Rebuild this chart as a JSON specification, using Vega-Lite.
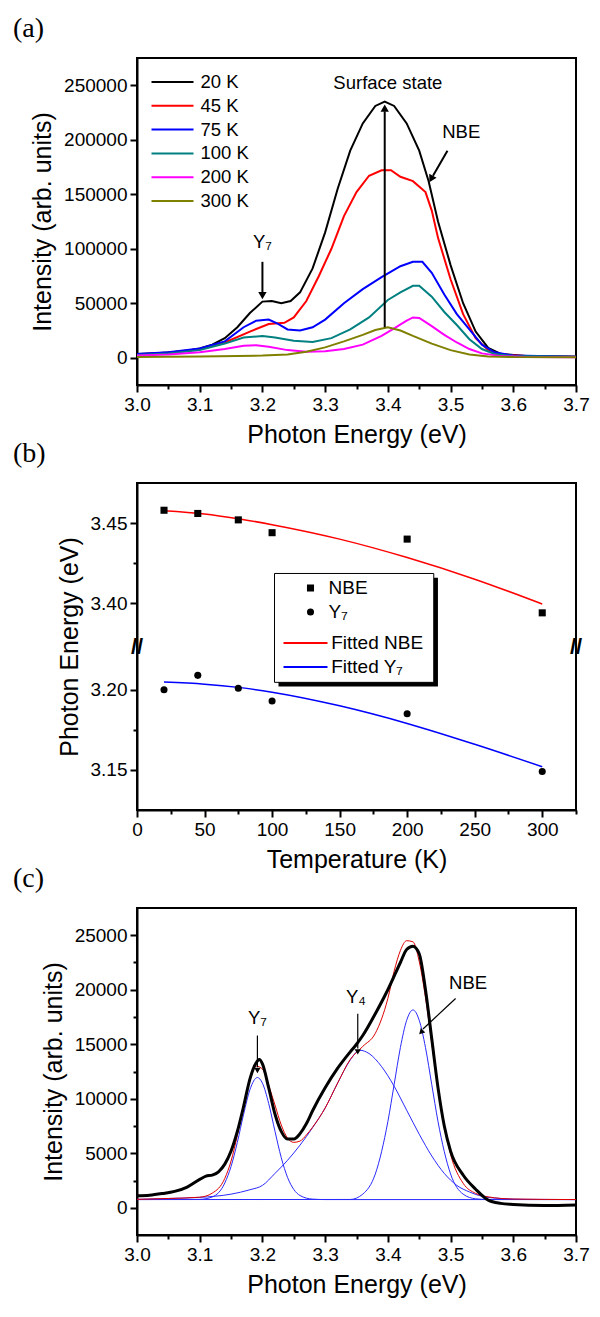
{
  "$schema": "https://vega.github.io/schema/vega-lite/v6.json",
  "background": "white",
  "padding": {"left": 12, "top": 14, "right": 5, "bottom": 5},
  "spacing": 98,
  "bounds": "flush",
  "config": {
    "font": "Liberation Sans",
    "view": {"stroke": "black", "strokeWidth": 2},
    "axis": {"domainColor": "black", "domainWidth": 2, "tickColor": "black", "tickWidth": 2, "labelFont": "Liberation Sans", "labelFontSize": 19, "labelColor": "black", "labelPadding": 3, "labelFlush": false, "labelOverlap": false, "titleFont": "Liberation Sans", "titleFontSize": 25, "titleFontWeight": "normal", "titleColor": "black", "grid": false, "titlePadding": 8},
    "legend": {"labelFont": "Liberation Sans", "labelColor": "black"},
    "title": {"font": "Liberation Serif", "fontSize": 28, "fontWeight": "normal", "anchor": "start", "frame": "group", "dx": -124, "offset": 15, "color": "black"},
    "text": {"font": "Liberation Sans", "fontSize": 18.5, "color": "black"}
  },
  "resolve": {"scale": {"color": "independent", "shape": "independent"}, "legend": {"color": "independent", "shape": "independent"}},
  "datasets": {
    "specA": [
      {"E":3.00,"I":3500,"T":"20 K"},{"E":3.03,"I":4200,"T":"20 K"},{"E":3.06,"I":5200,"T":"20 K"},{"E":3.08,"I":6500,"T":"20 K"},{"E":3.10,"I":8500,"T":"20 K"},{"E":3.12,"I":12000,"T":"20 K"},{"E":3.14,"I":18000,"T":"20 K"},{"E":3.16,"I":28000,"T":"20 K"},{"E":3.18,"I":41000,"T":"20 K"},{"E":3.20,"I":51500,"T":"20 K"},{"E":3.215,"I":52000,"T":"20 K"},{"E":3.23,"I":50000,"T":"20 K"},{"E":3.245,"I":52000,"T":"20 K"},{"E":3.26,"I":60000,"T":"20 K"},{"E":3.28,"I":82000,"T":"20 K"},{"E":3.30,"I":115000,"T":"20 K"},{"E":3.32,"I":155000,"T":"20 K"},{"E":3.34,"I":190000,"T":"20 K"},{"E":3.36,"I":215000,"T":"20 K"},{"E":3.38,"I":231000,"T":"20 K"},{"E":3.395,"I":235000,"T":"20 K"},{"E":3.41,"I":231000,"T":"20 K"},{"E":3.43,"I":215000,"T":"20 K"},{"E":3.45,"I":190000,"T":"20 K"},{"E":3.465,"I":162000,"T":"20 K"},{"E":3.48,"I":125000,"T":"20 K"},{"E":3.50,"I":85000,"T":"20 K"},{"E":3.52,"I":50000,"T":"20 K"},{"E":3.54,"I":24000,"T":"20 K"},{"E":3.56,"I":9000,"T":"20 K"},{"E":3.58,"I":3500,"T":"20 K"},{"E":3.62,"I":1500,"T":"20 K"},{"E":3.70,"I":1000,"T":"20 K"},
      {"E":3.00,"I":3000,"T":"45 K"},{"E":3.05,"I":4500,"T":"45 K"},{"E":3.10,"I":8000,"T":"45 K"},{"E":3.14,"I":14000,"T":"45 K"},{"E":3.18,"I":24000,"T":"45 K"},{"E":3.21,"I":31000,"T":"45 K"},{"E":3.235,"I":32000,"T":"45 K"},{"E":3.25,"I":37000,"T":"45 K"},{"E":3.27,"I":52000,"T":"45 K"},{"E":3.29,"I":75000,"T":"45 K"},{"E":3.31,"I":100000,"T":"45 K"},{"E":3.33,"I":130000,"T":"45 K"},{"E":3.35,"I":152000,"T":"45 K"},{"E":3.37,"I":167000,"T":"45 K"},{"E":3.39,"I":172000,"T":"45 K"},{"E":3.405,"I":172000,"T":"45 K"},{"E":3.42,"I":166000,"T":"45 K"},{"E":3.44,"I":162000,"T":"45 K"},{"E":3.46,"I":152000,"T":"45 K"},{"E":3.47,"I":135000,"T":"45 K"},{"E":3.48,"I":110000,"T":"45 K"},{"E":3.50,"I":72000,"T":"45 K"},{"E":3.52,"I":40000,"T":"45 K"},{"E":3.54,"I":18000,"T":"45 K"},{"E":3.56,"I":7000,"T":"45 K"},{"E":3.58,"I":3000,"T":"45 K"},{"E":3.62,"I":1500,"T":"45 K"},{"E":3.70,"I":1000,"T":"45 K"},
      {"E":3.00,"I":3500,"T":"75 K"},{"E":3.05,"I":5000,"T":"75 K"},{"E":3.10,"I":8500,"T":"75 K"},{"E":3.14,"I":15000,"T":"75 K"},{"E":3.17,"I":28000,"T":"75 K"},{"E":3.19,"I":34000,"T":"75 K"},{"E":3.21,"I":35000,"T":"75 K"},{"E":3.225,"I":31000,"T":"75 K"},{"E":3.24,"I":26000,"T":"75 K"},{"E":3.26,"I":25000,"T":"75 K"},{"E":3.28,"I":28000,"T":"75 K"},{"E":3.30,"I":35000,"T":"75 K"},{"E":3.33,"I":50000,"T":"75 K"},{"E":3.36,"I":63000,"T":"75 K"},{"E":3.39,"I":74000,"T":"75 K"},{"E":3.42,"I":84000,"T":"75 K"},{"E":3.44,"I":88000,"T":"75 K"},{"E":3.455,"I":88000,"T":"75 K"},{"E":3.47,"I":78000,"T":"75 K"},{"E":3.49,"I":58000,"T":"75 K"},{"E":3.51,"I":40000,"T":"75 K"},{"E":3.53,"I":26000,"T":"75 K"},{"E":3.55,"I":12000,"T":"75 K"},{"E":3.57,"I":5000,"T":"75 K"},{"E":3.60,"I":2000,"T":"75 K"},{"E":3.70,"I":1000,"T":"75 K"},
      {"E":3.00,"I":2500,"T":"100 K"},{"E":3.05,"I":4000,"T":"100 K"},{"E":3.10,"I":7000,"T":"100 K"},{"E":3.14,"I":13000,"T":"100 K"},{"E":3.17,"I":18500,"T":"100 K"},{"E":3.20,"I":20000,"T":"100 K"},{"E":3.22,"I":18500,"T":"100 K"},{"E":3.25,"I":15500,"T":"100 K"},{"E":3.28,"I":14500,"T":"100 K"},{"E":3.31,"I":18000,"T":"100 K"},{"E":3.34,"I":26000,"T":"100 K"},{"E":3.37,"I":37000,"T":"100 K"},{"E":3.40,"I":53000,"T":"100 K"},{"E":3.42,"I":60000,"T":"100 K"},{"E":3.44,"I":66000,"T":"100 K"},{"E":3.45,"I":66000,"T":"100 K"},{"E":3.47,"I":56000,"T":"100 K"},{"E":3.49,"I":42000,"T":"100 K"},{"E":3.51,"I":30000,"T":"100 K"},{"E":3.53,"I":17000,"T":"100 K"},{"E":3.55,"I":8000,"T":"100 K"},{"E":3.57,"I":3500,"T":"100 K"},{"E":3.60,"I":1500,"T":"100 K"},{"E":3.70,"I":1000,"T":"100 K"},
      {"E":3.00,"I":2000,"T":"200 K"},{"E":3.05,"I":3000,"T":"200 K"},{"E":3.10,"I":5000,"T":"200 K"},{"E":3.14,"I":8000,"T":"200 K"},{"E":3.17,"I":11000,"T":"200 K"},{"E":3.19,"I":11500,"T":"200 K"},{"E":3.21,"I":10000,"T":"200 K"},{"E":3.24,"I":7000,"T":"200 K"},{"E":3.27,"I":5500,"T":"200 K"},{"E":3.30,"I":6000,"T":"200 K"},{"E":3.33,"I":8000,"T":"200 K"},{"E":3.36,"I":12000,"T":"200 K"},{"E":3.39,"I":20000,"T":"200 K"},{"E":3.41,"I":27000,"T":"200 K"},{"E":3.43,"I":34000,"T":"200 K"},{"E":3.44,"I":37000,"T":"200 K"},{"E":3.45,"I":36500,"T":"200 K"},{"E":3.47,"I":29000,"T":"200 K"},{"E":3.49,"I":21000,"T":"200 K"},{"E":3.51,"I":14000,"T":"200 K"},{"E":3.53,"I":8000,"T":"200 K"},{"E":3.55,"I":4000,"T":"200 K"},{"E":3.58,"I":1500,"T":"200 K"},{"E":3.62,"I":800,"T":"200 K"},{"E":3.70,"I":500,"T":"200 K"},
      {"E":3.00,"I":800,"T":"300 K"},{"E":3.10,"I":1200,"T":"300 K"},{"E":3.20,"I":2000,"T":"300 K"},{"E":3.24,"I":3000,"T":"300 K"},{"E":3.27,"I":5500,"T":"300 K"},{"E":3.30,"I":9500,"T":"300 K"},{"E":3.33,"I":15000,"T":"300 K"},{"E":3.36,"I":21000,"T":"300 K"},{"E":3.38,"I":25500,"T":"300 K"},{"E":3.40,"I":28000,"T":"300 K"},{"E":3.42,"I":25000,"T":"300 K"},{"E":3.44,"I":20000,"T":"300 K"},{"E":3.47,"I":13000,"T":"300 K"},{"E":3.50,"I":7000,"T":"300 K"},{"E":3.53,"I":3000,"T":"300 K"},{"E":3.56,"I":1200,"T":"300 K"},{"E":3.60,"I":600,"T":"300 K"},{"E":3.70,"I":500,"T":"300 K"}
    ],
    "arrowA": [
      {"E":3.395,"I":28000,"E2":3.395,"I2":226000},
      {"E":3.495,"I":190000,"E2":3.472,"I2":167000},
      {"E":3.2,"I":88000,"E2":3.2,"I2":60000}
    ],
    "headUpA": [{"E":3.395,"I":229000}],
    "headDownA": [{"E":3.2,"I":57000}],
    "headNbeA": [{"E":3.469,"I":164000}],
    "textA": [
      {"E":3.40,"I":252000,"label":"Surface state"},
      {"E":3.517,"I":207000,"label":"NBE"},
      {"E":3.2,"I":106000,"label":"Y₇"}
    ],
    "pointsB": [
      {"T":20,"v":3.458,"S":"NBE"},{"T":45,"v":3.456,"S":"NBE"},{"T":75,"v":3.452,"S":"NBE"},{"T":100,"v":3.444,"S":"NBE"},{"T":200,"v":3.440,"S":"NBE"},{"T":300,"v":3.394,"S":"NBE"},
      {"T":20,"v":3.200,"S":"Y₇"},{"T":45,"v":3.209,"S":"Y₇"},{"T":75,"v":3.201,"S":"Y₇"},{"T":100,"v":3.193,"S":"Y₇"},{"T":200,"v":3.185,"S":"Y₇"},{"T":300,"v":3.149,"S":"Y₇"}
    ],
    "fitsB": [
      {"T":20,"v":3.4577,"S":"Fitted NBE"},{"T":50,"v":3.4557,"S":"Fitted NBE"},{"T":75,"v":3.4527,"S":"Fitted NBE"},{"T":100,"v":3.449,"S":"Fitted NBE"},{"T":150,"v":3.440,"S":"Fitted NBE"},{"T":200,"v":3.4285,"S":"Fitted NBE"},{"T":250,"v":3.415,"S":"Fitted NBE"},{"T":300,"v":3.3995,"S":"Fitted NBE"},
      {"T":20,"v":3.2048,"S":"Fitted Y₇"},{"T":50,"v":3.2035,"S":"Fitted Y₇"},{"T":75,"v":3.2015,"S":"Fitted Y₇"},{"T":100,"v":3.1985,"S":"Fitted Y₇"},{"T":150,"v":3.190,"S":"Fitted Y₇"},{"T":200,"v":3.179,"S":"Fitted Y₇"},{"T":250,"v":3.166,"S":"Fitted Y₇"},{"T":300,"v":3.152,"S":"Fitted Y₇"}
    ],
    "shadowB": [{"T":104.75,"v":3.41594,"T2":222.8,"v2":3.202}],
    "boxB": [{"T":101.8,"v":3.41856,"T2":219.7,"v2":3.20463}],
    "breaksB": [{"T":0,"v":3.30},{"T":325,"v":3.30}],
    "blackC": [
      {"E":3.00,"I":1100},{"E":3.02,"I":1150},{"E":3.04,"I":1300},{"E":3.06,"I":1500},{"E":3.08,"I":1900},{"E":3.10,"I":2600},{"E":3.11,"I":2900},{"E":3.12,"I":3000},{"E":3.13,"I":3300},{"E":3.14,"I":4000},{"E":3.15,"I":5200},{"E":3.16,"I":7000},{"E":3.17,"I":9300},{"E":3.18,"I":11800},{"E":3.19,"I":13300},{"E":3.195,"I":13600},{"E":3.20,"I":13200},{"E":3.21,"I":11000},{"E":3.22,"I":8600},{"E":3.23,"I":7000},{"E":3.24,"I":6300},{"E":3.25,"I":6300},{"E":3.26,"I":6800},{"E":3.27,"I":7700},{"E":3.28,"I":8900},{"E":3.30,"I":11000},{"E":3.32,"I":12800},{"E":3.34,"I":14300},{"E":3.35,"I":15000},{"E":3.36,"I":15800},{"E":3.38,"I":17800},{"E":3.40,"I":20000},{"E":3.42,"I":22500},{"E":3.43,"I":23700},{"E":3.44,"I":24000},{"E":3.45,"I":23300},{"E":3.46,"I":20000},{"E":3.47,"I":15500},{"E":3.48,"I":11000},{"E":3.49,"I":7500},{"E":3.50,"I":5200},{"E":3.52,"I":3000},{"E":3.54,"I":1700},{"E":3.56,"I":700},{"E":3.58,"I":400},{"E":3.60,"I":300},{"E":3.65,"I":200},{"E":3.70,"I":250}
    ],
    "redC": [
      {"E":3.00,"I":770},{"E":3.05,"I":850},{"E":3.10,"I":970},{"E":3.12,"I":1340},{"E":3.14,"I":2690},{"E":3.15,"I":4290},{"E":3.16,"I":6650},{"E":3.17,"I":9340},{"E":3.18,"I":11720},{"E":3.19,"I":13000},{"E":3.20,"I":12730},{"E":3.21,"I":11210},{"E":3.22,"I":9420},{"E":3.23,"I":7600},{"E":3.24,"I":6390},{"E":3.25,"I":6000},{"E":3.26,"I":6120},{"E":3.27,"I":6670},{"E":3.28,"I":7390},{"E":3.30,"I":9150},{"E":3.32,"I":11450},{"E":3.34,"I":13600},{"E":3.36,"I":14800},{"E":3.38,"I":16000},{"E":3.40,"I":19200},{"E":3.41,"I":21700},{"E":3.42,"I":23600},{"E":3.43,"I":24500},{"E":3.44,"I":24400},{"E":3.45,"I":22600},{"E":3.46,"I":19300},{"E":3.47,"I":15100},{"E":3.48,"I":11000},{"E":3.50,"I":4900},{"E":3.52,"I":2250},{"E":3.54,"I":1320},{"E":3.56,"I":1000},{"E":3.60,"I":800},{"E":3.70,"I":750}
    ],
    "compC": [
      {"E":3.00,"I":750,"C":"Y7"},{"E":3.08,"I":760,"C":"Y7"},{"E":3.10,"I":770,"C":"Y7"},{"E":3.12,"I":990,"C":"Y7"},{"E":3.14,"I":2270,"C":"Y7"},{"E":3.15,"I":3790,"C":"Y7"},{"E":3.16,"I":6000,"C":"Y7"},{"E":3.17,"I":8580,"C":"Y7"},{"E":3.18,"I":10820,"C":"Y7"},{"E":3.192,"I":11950,"C":"Y7"},{"E":3.20,"I":11430,"C":"Y7"},{"E":3.21,"I":9560,"C":"Y7"},{"E":3.22,"I":7020,"C":"Y7"},{"E":3.23,"I":4600,"C":"Y7"},{"E":3.24,"I":2790,"C":"Y7"},{"E":3.25,"I":1680,"C":"Y7"},{"E":3.26,"I":1120,"C":"Y7"},{"E":3.28,"I":790,"C":"Y7"},{"E":3.30,"I":750,"C":"Y7"},{"E":3.70,"I":750,"C":"Y7"},
      {"E":3.00,"I":770,"C":"Y4"},{"E":3.05,"I":850,"C":"Y4"},{"E":3.10,"I":950,"C":"Y4"},{"E":3.15,"I":1250,"C":"Y4"},{"E":3.18,"I":1650,"C":"Y4"},{"E":3.20,"I":2050,"C":"Y4"},{"E":3.22,"I":3150,"C":"Y4"},{"E":3.24,"I":4350,"C":"Y4"},{"E":3.26,"I":5750,"C":"Y4"},{"E":3.28,"I":7350,"C":"Y4"},{"E":3.30,"I":9150,"C":"Y4"},{"E":3.32,"I":11450,"C":"Y4"},{"E":3.34,"I":13550,"C":"Y4"},{"E":3.355,"I":14450,"C":"Y4"},{"E":3.37,"I":14150,"C":"Y4"},{"E":3.39,"I":12950,"C":"Y4"},{"E":3.41,"I":11150,"C":"Y4"},{"E":3.43,"I":8950,"C":"Y4"},{"E":3.45,"I":6750,"C":"Y4"},{"E":3.47,"I":4750,"C":"Y4"},{"E":3.49,"I":3150,"C":"Y4"},{"E":3.51,"I":2050,"C":"Y4"},{"E":3.53,"I":1450,"C":"Y4"},{"E":3.55,"I":1050,"C":"Y4"},{"E":3.58,"I":850,"C":"Y4"},{"E":3.62,"I":770,"C":"Y4"},{"E":3.70,"I":750,"C":"Y4"},
      {"E":3.00,"I":750,"C":"NBE"},{"E":3.34,"I":760,"C":"NBE"},{"E":3.36,"I":1250,"C":"NBE"},{"E":3.38,"I":3100,"C":"NBE"},{"E":3.40,"I":7900,"C":"NBE"},{"E":3.41,"I":11300,"C":"NBE"},{"E":3.42,"I":14700,"C":"NBE"},{"E":3.43,"I":17200,"C":"NBE"},{"E":3.44,"I":18150,"C":"NBE"},{"E":3.45,"I":17200,"C":"NBE"},{"E":3.46,"I":14700,"C":"NBE"},{"E":3.47,"I":11300,"C":"NBE"},{"E":3.48,"I":7900,"C":"NBE"},{"E":3.50,"I":3100,"C":"NBE"},{"E":3.52,"I":1250,"C":"NBE"},{"E":3.54,"I":820,"C":"NBE"},{"E":3.56,"I":760,"C":"NBE"},{"E":3.70,"I":750,"C":"NBE"}
    ],
    "arrowC": [
      {"E":3.192,"I":15800,"E2":3.192,"I2":12900},
      {"E":3.352,"I":17800,"E2":3.352,"I2":14600},
      {"E":3.508,"I":19200,"E2":3.456,"I2":16400}
    ],
    "headDownC": [{"E":3.192,"I":12600},{"E":3.352,"I":14300}],
    "headNbeC": [{"E":3.453,"I":16100}],
    "textC": [
      {"E":3.192,"I":17400,"label":"Y₇"},
      {"E":3.349,"I":19300,"label":"Y₄"},
      {"E":3.528,"I":20600,"label":"NBE"}
    ]
  },
  "vconcat": [
    {
      "width": 439, "height": 327,
      "title": "(a)",
      "encoding": {
        "x": {"field": "E", "type": "quantitative", "scale": {"domain": [3.0, 3.7], "nice": false, "zero": false},
          "axis": {"title": "Photon Energy (eV)", "values": [3.0,3.05,3.1,3.15,3.2,3.25,3.3,3.35,3.4,3.45,3.5,3.55,3.6,3.65,3.7],
            "labelExpr": "abs(datum.value*10 - round(datum.value*10)) < 0.001 ? format(datum.value, '.1f') : ''",
            "tickSize": {"condition": {"test": "abs(datum.value*10 - round(datum.value*10)) < 0.001", "value": 7}, "value": 4}}},
        "y": {"field": "I", "type": "quantitative", "scale": {"domain": [-25000, 275000], "nice": false, "zero": false},
          "axis": {"title": "Intensity (arb. units)", "values": [0, 50000, 100000, 150000, 200000, 250000], "format": "d", "tickSize": 7}}
      },
      "layer": [
        {"data": {"name": "specA"}, "mark": {"type": "line", "strokeWidth": 2, "clip": true},
          "encoding": {"color": {"field": "T", "type": "nominal",
            "scale": {"domain": ["20 K","45 K","75 K","100 K","200 K","300 K"], "range": ["#000000","#ff0000","#0000ff","#008080","#ff00ff","#808000"]},
            "legend": {"orient": "none", "legendX": 13.5, "legendY": 14, "title": null, "symbolType": "stroke", "symbolSize": 1764, "symbolStrokeWidth": 2, "labelFontSize": 18.5, "labelOffset": 6, "clipHeight": 20, "rowPadding": 3.8, "padding": 0}}}},
        {"data": {"name": "arrowA"}, "mark": {"type": "rule", "color": "black", "strokeWidth": 2}, "encoding": {"x2": {"field": "E2"}, "y2": {"field": "I2"}}},
        {"data": {"name": "headUpA"}, "mark": {"type": "point", "shape": "triangle-up", "filled": true, "color": "black", "size": 70, "opacity": 1}},
        {"data": {"name": "headDownA"}, "mark": {"type": "point", "shape": "triangle-down", "filled": true, "color": "black", "size": 70, "opacity": 1}},
        {"data": {"name": "headNbeA"}, "mark": {"type": "point", "shape": "triangle-down", "filled": true, "color": "black", "size": 70, "opacity": 1, "angle": 29}},
        {"data": {"name": "textA"}, "mark": {"type": "text"}, "encoding": {"text": {"field": "label"}}}
      ]
    },
    {
      "width": 439, "height": 327,
      "title": "(b)",
      "encoding": {
        "x": {"field": "T", "type": "quantitative", "scale": {"domain": [0, 325], "nice": false, "zero": false},
          "axis": {"title": "Temperature (K)", "values": [0,25,50,75,100,125,150,175,200,225,250,275,300,325],
            "labelExpr": "datum.value % 50 === 0 ? datum.label : ''",
            "tickSize": {"condition": {"test": "datum.value % 50 === 0", "value": 7}, "value": 4}}},
        "y": {"field": "v", "type": "quantitative", "scale": {"domain": [3.125, 3.225, 3.375, 3.475], "range": [327, 166.7, 160.3, 0], "nice": false, "zero": false},
          "axis": {"title": "Photon Energy (eV)", "values": [3.15, 3.175, 3.2, 3.4, 3.425, 3.45], "format": ".2f",
            "labelExpr": "abs(datum.value*20 - round(datum.value*20)) < 0.001 ? datum.label : ''",
            "tickSize": {"condition": {"test": "abs(datum.value*20 - round(datum.value*20)) < 0.001", "value": 7}, "value": 4}}}
      },
      "layer": [
        {"data": {"name": "shadowB"}, "mark": {"type": "rect", "color": "black", "opacity": 1}, "encoding": {"x2": {"field": "T2"}, "y2": {"field": "v2"}}},
        {"data": {"name": "boxB"}, "mark": {"type": "rect", "fill": "white", "stroke": "black", "strokeWidth": 1, "opacity": 1}, "encoding": {"x2": {"field": "T2"}, "y2": {"field": "v2"}}},
        {"data": {"name": "fitsB"}, "mark": {"type": "line", "strokeWidth": 1.5, "interpolate": "monotone"},
          "encoding": {"color": {"field": "S", "type": "nominal",
            "scale": {"domain": ["Fitted NBE","Fitted Y₇"], "range": ["#ff0000","#0000ff"]},
            "legend": {"orient": "none", "legendX": 145.5, "legendY": 151.5, "title": null, "symbolType": "stroke", "symbolSize": 1936, "symbolStrokeWidth": 2, "labelFontSize": 19, "labelOffset": 2.7, "clipHeight": 17, "rowPadding": 4, "padding": 0}}}},
        {"data": {"name": "pointsB"}, "mark": {"type": "point", "filled": true, "size": 50, "opacity": 1, "color": "black"},
          "encoding": {
            "shape": {"field": "S", "type": "nominal",
              "scale": {"domain": ["NBE","Y₇"], "range": ["square","circle"]},
              "legend": {"orient": "none", "legendX": 159, "legendY": 95.6, "title": null, "symbolSize": 50, "symbolStrokeWidth": 0, "symbolFillColor": "black", "symbolOffset": 5, "labelFontSize": 19, "labelOffset": 8.5, "clipHeight": 18.7, "rowPadding": 4, "padding": 0}}}},
        {"data": {"name": "breaksB"}, "mark": {"type": "text", "text": "//", "fontSize": 22, "fontWeight": "bold", "clip": false}}
      ]
    },
    {
      "width": 439, "height": 327,
      "title": "(c)",
      "encoding": {
        "x": {"field": "E", "type": "quantitative", "scale": {"domain": [3.0, 3.7], "nice": false, "zero": false},
          "axis": {"title": "Photon Energy (eV)", "values": [3.0,3.05,3.1,3.15,3.2,3.25,3.3,3.35,3.4,3.45,3.5,3.55,3.6,3.65,3.7],
            "labelExpr": "abs(datum.value*10 - round(datum.value*10)) < 0.001 ? format(datum.value, '.1f') : ''",
            "tickSize": {"condition": {"test": "abs(datum.value*10 - round(datum.value*10)) < 0.001", "value": 7}, "value": 4}}},
        "y": {"field": "I", "type": "quantitative", "scale": {"domain": [-2500, 27500], "nice": false, "zero": false},
          "axis": {"title": "Intensity (arb. units)", "values": [0,2500,5000,7500,10000,12500,15000,17500,20000,22500,25000], "format": "d",
            "labelExpr": "datum.value % 5000 === 0 ? datum.label : ''",
            "tickSize": {"condition": {"test": "datum.value % 5000 === 0", "value": 7}, "value": 4}}}
      },
      "layer": [
        {"data": {"name": "compC"}, "mark": {"type": "line", "strokeWidth": 1, "color": "#2a2aff", "interpolate": "monotone"}, "encoding": {"detail": {"field": "C"}}},
        {"data": {"name": "redC"}, "mark": {"type": "line", "strokeWidth": 1, "color": "#e00000", "interpolate": "monotone"}},
        {"data": {"name": "blackC"}, "mark": {"type": "line", "strokeWidth": 3, "color": "black", "interpolate": "monotone"}},
        {"data": {"name": "arrowC"}, "mark": {"type": "rule", "color": "black", "strokeWidth": 1.2}, "encoding": {"x2": {"field": "E2"}, "y2": {"field": "I2"}}},
        {"data": {"name": "headDownC"}, "mark": {"type": "point", "shape": "triangle-down", "filled": true, "color": "black", "size": 40, "opacity": 1}},
        {"data": {"name": "headNbeC"}, "mark": {"type": "point", "shape": "triangle-down", "filled": true, "color": "black", "size": 40, "opacity": 1, "angle": 45}},
        {"data": {"name": "textC"}, "mark": {"type": "text"}, "encoding": {"text": {"field": "label"}}}
      ]
    }
  ]
}
